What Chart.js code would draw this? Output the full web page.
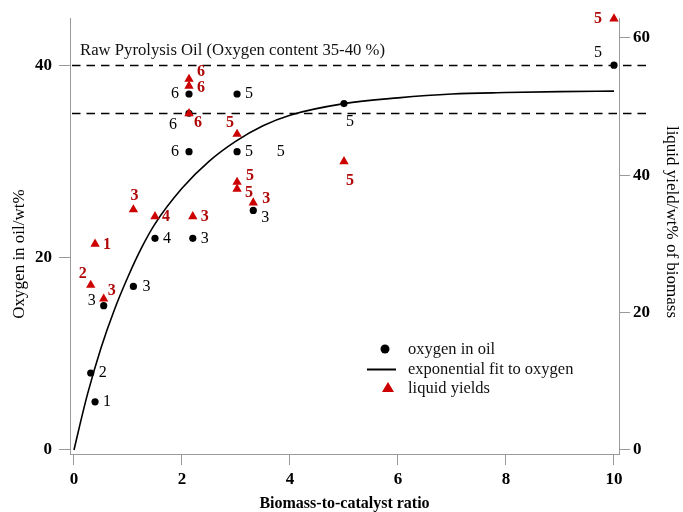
<!DOCTYPE html>
<html>
<head>
<meta charset="utf-8">
<title>Oxygen in oil and liquid yield vs biomass-to-catalyst ratio</title>
<script src="https://cdn.jsdelivr.net/npm/chart.js@4.4.1/dist/chart.umd.min.js"></script>
<style>
  html, body { margin: 0; padding: 0; background: #ffffff; }
  #wrap { width: 683px; height: 512px; }
</style>
</head>
<body>
<div id="wrap"><canvas id="chart" width="683" height="512"></canvas></div>
<script>
// Oxygen content of the upgraded oil (wt%) against biomass-to-catalyst ratio
const oxygenRatio = [0.39, 0.31, 0.55, 1.1, 1.5, 2.2, 3.32, 2.13, 3.02, 2.13, 3.02, 2.13, 5, 10];
const oxygenValue = [5, 8, 15, 17, 22, 22, 24.9, 31, 31, 37, 37, 35, 36, 40];
const oxygenTag   = ['1', '2', '3', '3', '4', '3', '3', '6', '5', '6', '5', '6', '5', '5'];

// A run tag printed without a marker
const looseTagRatio  = [3.83];
const looseTagOxygen = [31];
const looseTag       = ['5'];

// Liquid yield (wt% of biomass) against biomass-to-catalyst ratio
const yieldRatio = [0.39, 0.31, 0.55, 1.1, 1.5, 2.2, 3.32, 3.02, 3.02, 3.02, 5, 10, 2.13, 2.13, 2.13];
const yieldValue = [30, 24, 22, 35, 34, 34, 36, 39, 38, 46, 42, 62.8, 54, 53, 49];
const yieldTag   = ['1', '2', '3', '3', '4', '3', '3', '5', '5', '5', '5', '5', '6', '6', '6'];

// Exponential fit to the oxygen data
const fitRatio  = [0, 0.1, 0.25, 0.5, 0.75, 1, 1.25, 1.5, 2, 2.5, 3, 3.5, 4, 5, 6, 7, 8, 9, 10];
const fitOxygen = [0, 2.4, 5.8, 10.6, 14.6, 18.0, 21.0, 23.5, 27.2, 30.0, 32.1, 33.7, 34.8, 36.0, 36.6, 37.0, 37.15, 37.25, 37.3];

// Oxygen content range of raw pyrolysis oil
const rawOilOxygen = [35, 40];
const rawOilText = 'Raw Pyrolysis Oil (Oxygen content 35-40 %)';

// Axis ticks
const ratioTicks  = [0, 2, 4, 6, 8, 10];
const oxygenTicks = [0, 20, 40];
const yieldTicks  = [0, 20, 40, 60];

// Nudges of the number tags beside each marker (pixels)
const oxygenTagShift = [[12, 0], [12, 0], [-12, -5], [13, 0], [12, 0], [12, 0], [12, 7], [-14, 0], [12, 0], [-14, 0], [12, 0], [-16, 12], [6, 18], [-16, -12]];
const yieldTagShift  = [[12, 1], [-8, -11], [8, -8], [1, -14], [11, 0], [12, 0], [13, -4], [13, -6], [12, 4], [-7, -11], [6, 19], [-16, 0], [12, -7], [12, 2], [9, 9]];

const SERIF = "'Liberation Serif', 'Times New Roman', serif";
const RED = '#cc0000';
const RED_TEXT = '#b00808';
const AXIS_GREY = '#9a9a9a';

const zip = (xs, ys) => xs.map((x, i) => ({ x: x, y: ys[i] }));
const fixedTicks = vals => scale => { scale.ticks = vals.map(v => ({ value: v })); };

// dashed band lines and their caption
const bandPlugin = {
  id: 'rawOilBand',
  beforeDatasetsDraw(chart) {
    const { ctx, chartArea, scales } = chart;
    ctx.save();
    ctx.strokeStyle = '#000';
    ctx.lineWidth = 1.3;
    ctx.setLineDash([8.5, 6]);
    rawOilOxygen.forEach(v => {
      const y = Math.round(scales.y.getPixelForValue(v)) + 0.5;
      ctx.beginPath();
      ctx.moveTo(chartArea.left + 2, y);
      ctx.lineTo(chartArea.right + 32, y);
      ctx.stroke();
    });
    ctx.setLineDash([]);
    ctx.fillStyle = '#111';
    ctx.font = '16.7px ' + SERIF;
    ctx.textAlign = 'left';
    ctx.textBaseline = 'alphabetic';
    const top = scales.y.getPixelForValue(Math.max(...rawOilOxygen));
    ctx.fillText(rawOilText, chartArea.left + 10, top - 10);
    ctx.restore();
  }
};

// number tags next to the markers
const tagPlugin = {
  id: 'pointTags',
  afterDatasetsDraw(chart) {
    const { ctx, scales } = chart;
    ctx.save();
    ctx.textAlign = 'center';
    ctx.textBaseline = 'middle';
    chart.data.datasets.forEach((ds, di) => {
      if (!ds.tags) return;
      const meta = chart.getDatasetMeta(di);
      ctx.fillStyle = ds.tagColor;
      ctx.font = ds.tagFont;
      meta.data.forEach((pt, i) => {
        const s = ds.tagShift[i];
        ctx.fillText(ds.tags[i], pt.x + s[0], pt.y + s[1]);
      });
    });
    ctx.fillStyle = '#000';
    ctx.font = '16px ' + SERIF;
    looseTag.forEach((t, i) => {
      ctx.fillText(t, scales.x.getPixelForValue(looseTagRatio[i]), scales.y.getPixelForValue(looseTagOxygen[i]));
    });
    ctx.restore();
  }
};

// legend inside the plot and the two vertical axis titles
const framePlugin = {
  id: 'frameText',
  afterDraw(chart) {
    const { ctx, chartArea } = chart;
    ctx.save();
    // legend
    const sx = chartArea.left + 316;
    const tx = chartArea.left + 338;
    const rows = [chartArea.top + 331, chartArea.top + 351, chartArea.top + 370];
    ctx.fillStyle = '#000';
    ctx.beginPath();
    ctx.arc(sx - 1, rows[0], 4.5, 0, Math.PI * 2);
    ctx.fill();
    ctx.strokeStyle = '#000';
    ctx.lineWidth = 2;
    ctx.beginPath();
    ctx.moveTo(sx - 19, rows[1] + 0.5);
    ctx.lineTo(sx + 10, rows[1] + 0.5);
    ctx.stroke();
    ctx.fillStyle = RED;
    ctx.beginPath();
    ctx.moveTo(sx + 2, rows[2] - 6);
    ctx.lineTo(sx + 8, rows[2] + 4);
    ctx.lineTo(sx - 4, rows[2] + 4);
    ctx.closePath();
    ctx.fill();
    ctx.fillStyle = '#111';
    ctx.font = '16.5px ' + SERIF;
    ctx.textAlign = 'left';
    ctx.textBaseline = 'middle';
    const names = chart.data.datasets.slice().sort((a, b) => a.legendRank - b.legendRank).map(d => d.label);
    names.forEach((n, i) => ctx.fillText(n, tx, rows[i] + 1));

    // vertical axis titles
    ctx.font = '17px ' + SERIF;
    ctx.textAlign = 'center';
    ctx.textBaseline = 'middle';
    ctx.fillStyle = '#000';
    ctx.save();
    ctx.translate(20, 254);
    ctx.rotate(-Math.PI / 2);
    ctx.fillText('Oxygen in oil/wt%', 0, 0);
    ctx.restore();
    ctx.save();
    ctx.translate(671, 222);
    ctx.rotate(Math.PI / 2);
    ctx.fillText('liquid yield/wt% of biomass', 0, 0);
    ctx.restore();
    ctx.restore();
  }
};

const tickFont = { family: SERIF, size: 17, weight: 'bold' };
const gridStyle = { drawOnChartArea: false, drawTicks: true, tickLength: 11, color: AXIS_GREY, lineWidth: 1 };
const borderStyle = { display: true, color: AXIS_GREY, width: 1 };

new Chart(document.getElementById('chart'), {
  data: {
    datasets: [
      {
        type: 'scatter',
        label: 'liquid yields',
        legendRank: 2,
        data: zip(yieldRatio, yieldValue),
        yAxisID: 'y2',
        pointStyle: 'triangle',
        pointRadius: 5.4,
        pointBackgroundColor: RED,
        pointBorderWidth: 0,
        pointBorderColor: RED,
        clip: false,
        order: 0,
        tags: yieldTag,
        tagShift: yieldTagShift,
        tagColor: RED_TEXT,
        tagFont: 'bold 16px ' + SERIF
      },
      {
        type: 'scatter',
        label: 'oxygen in oil',
        legendRank: 0,
        data: zip(oxygenRatio, oxygenValue),
        yAxisID: 'y',
        pointStyle: 'circle',
        pointRadius: 3.6,
        pointBackgroundColor: '#000',
        pointBorderWidth: 0,
        clip: false,
        order: 1,
        tags: oxygenTag,
        tagShift: oxygenTagShift,
        tagColor: '#000',
        tagFont: '16px ' + SERIF
      },
      {
        type: 'line',
        label: 'exponential fit to oxygen',
        legendRank: 1,
        data: zip(fitRatio, fitOxygen),
        yAxisID: 'y',
        borderColor: '#000',
        borderWidth: 1.6,
        pointRadius: 0,
        fill: false,
        cubicInterpolationMode: 'monotone',
        clip: false,
        order: 2
      }
    ]
  },
  options: {
    responsive: false,
    animation: false,
    events: [],
    layout: { padding: { top: 18, left: 0, right: 0, bottom: 0 } },
    plugins: { legend: { display: false }, tooltip: { enabled: false } },
    scales: {
      x: {
        type: 'linear',
        position: 'bottom',
        min: -0.074,
        max: 10.093,
        afterBuildTicks: fixedTicks(ratioTicks),
        afterFit: s => { s.height = 58; },
        grid: gridStyle,
        border: borderStyle,
        ticks: { font: tickFont, color: '#000', padding: 4, maxRotation: 0 },
        title: {
          display: true,
          text: 'Biomass-to-catalyst ratio',
          color: '#000',
          font: { family: SERIF, size: 16, weight: 'bold' },
          padding: { top: 0, bottom: -1 }
        }
      },
      y: {
        type: 'linear',
        position: 'left',
        min: -0.42,
        max: 44.9,
        afterBuildTicks: fixedTicks(oxygenTicks),
        afterFit: s => { s.width = 70; },
        grid: gridStyle,
        border: borderStyle,
        ticks: { font: tickFont, color: '#000', padding: 7 }
      },
      y2: {
        type: 'linear',
        position: 'right',
        min: -0.59,
        max: 62.9,
        afterBuildTicks: fixedTicks(yieldTicks),
        afterFit: s => { s.width = 64; },
        grid: gridStyle,
        border: borderStyle,
        ticks: { font: tickFont, color: '#000', padding: 3 }
      }
    }
  },
  plugins: [bandPlugin, tagPlugin, framePlugin]
});
</script>
</body>
</html>
